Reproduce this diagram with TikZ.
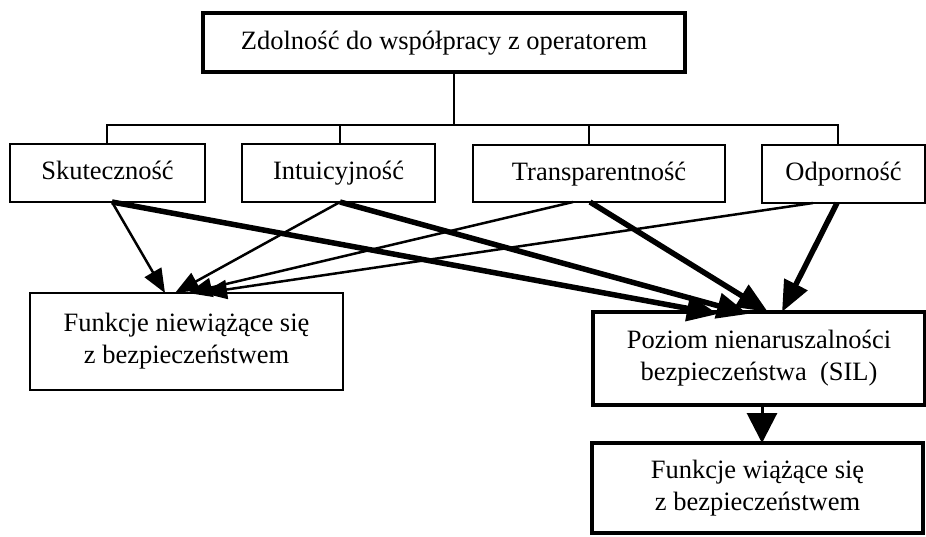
\documentclass[tikz,border=0pt]{standalone}
\usepackage{fontspec}
\setmainfont{Liberation Serif}
\usetikzlibrary{arrows.meta}
\begin{document}
\begin{tikzpicture}[x=1pt,y=-1pt,
  box/.style={draw, line width=2.8pt, inner sep=0pt, outer sep=0pt,
    align=center, font=\fontsize{26.5}{32}\selectfont},
  onerow/.style={box, text height=19pt, text depth=6pt},
  heavybox/.style={box, line width=3.8pt},
  bus/.style={line width=2.8pt},
  thinarr/.style={line width=2.5pt, -{Triangle[length=24pt,width=19pt]}},
  thickarr/.style={line width=5.5pt, -{Triangle[length=31pt,width=25pt]}},
  downarr/.style={line width=3pt, -{Triangle[length=30pt,width=30pt]}}]
\useasboundingbox (0,0) rectangle (926,536);

% boxes
\node[onerow, line width=3.2pt, minimum width=482pt, minimum height=59pt] (top) at (444,42.5)
  {Zdolność do współpracy z operatorem};
\node[onerow, minimum width=195pt, minimum height=58pt] (sk) at (107.5,173) {Skuteczność};
\node[onerow, minimum width=193pt, minimum height=58pt] (in) at (338.5,173) {Intuicyjność};
\node[onerow, minimum width=252pt, minimum height=57pt] (tr) at (599,173.5) {Transparentność};
\node[onerow, minimum width=163pt, minimum height=58pt] (od) at (843.5,174) {Odporność};
\node[box, minimum width=313pt, minimum height=97pt] (fn) at (186.5,341.5)
  {Funkcje niewiążące się\\z bezpieczeństwem};
\node[heavybox, minimum width=332pt, minimum height=93pt] (sil) at (759,358.5)
  {Poziom nienaruszalności\\bezpieczeństwa~~(SIL)};
\node[heavybox, minimum width=331pt, minimum height=90pt] (fw) at (757.5,488)
  {Funkcje wiążące się\\z bezpieczeństwem};

% tree bus from the top box to the four criteria
\coordinate (stem) at (454,125);
\coordinate (busSk) at (107,125);
\coordinate (busIn) at (340,125);
\coordinate (busTr) at (589,125);
\coordinate (busOd) at (838,125);
\draw[bus] (stem |- top.south) -- (stem);
\draw[bus, line cap=rect] (busSk) -- (busOd);
\draw[bus] (busSk) -- (busSk |- sk.north);
\draw[bus] (busIn) -- (busIn |- in.north);
\draw[bus] (busTr) -- (busTr |- tr.north);
\draw[bus] (busOd) -- (busOd |- od.north);

% thin arrows to the non-safety functions
\draw[thinarr] ([xshift=4.5pt]sk.south) -- ([xshift=-21.5pt]fn.north);
\draw[thinarr] ([xshift=1.5pt]in.south) -- ([xshift=-11.5pt]fn.north);
\draw[thinarr] ([xshift=-26pt]tr.south) -- ([xshift=1.5pt]fn.north);
\draw[thinarr] ([xshift=-30.5pt]od.south) -- ([xshift=16.5pt]fn.north);

% thick arrows to the SIL box
\draw[thickarr] ([xshift=4.5pt]sk.south) -- ([xshift=-41pt,yshift=-2pt]sil.north);
\draw[thickarr] ([xshift=1.5pt]in.south) -- ([xshift=-11pt,yshift=-2pt]sil.north);
\draw[thickarr] ([xshift=-9pt]tr.south) -- ([xshift=9pt]sil.north);
\draw[thickarr] ([xshift=-6.5pt]od.south) -- ([xshift=23pt]sil.north);

% SIL to safety functions
\draw[downarr] ([xshift=3pt]sil.south) -- ([xshift=4.5pt]fw.north);
\end{tikzpicture}
\end{document}
